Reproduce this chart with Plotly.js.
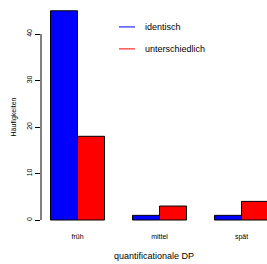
<!DOCTYPE html>
<html><head><meta charset="utf-8">
<script src="https://cdn.plot.ly/plotly-3.0.1.min.js"></script>
<style>html,body{margin:0;padding:0;background:#fff}#c{width:267px;height:264px}</style>
</head><body><div id="c"></div>
<script>
const categories = ["früh", "mittel", "spät"];
const identisch = [45, 1, 1];
const unterschiedlich = [18, 3, 4];
const seriesNames = ["identisch", "unterschiedlich"];
const seriesColors = ["#0000FF", "#FF0000"];
const yTicks = [0, 10, 20, 30, 40];

const font = "Liberation Sans, Arial, sans-serif";
const traces = [
  {type: "bar", x: categories, y: identisch, name: seriesNames[0], showlegend: false,
   marker: {color: seriesColors[0], line: {color: "#000", width: 1}}},
  {type: "bar", x: categories, y: unterschiedlich, name: seriesNames[1], showlegend: false,
   marker: {color: seriesColors[1], line: {color: "#000", width: 1}}}
];
// manual legend (R-style short line keys)
const legY = [0.902, 0.804];
const shapes = [{type: "line", xref: "paper", x0: 0, x1: 0, yref: "y", y0: yTicks[0], y1: yTicks[yTicks.length-1],
                 line: {color: "#000", width: 1}}];
const annotations = [];
seriesNames.forEach((n, i) => {
  shapes.push({type: "line", xref: "paper", yref: "paper", x0: 0.345, x1: 0.416, y0: legY[i], y1: legY[i],
               line: {color: seriesColors[i], width: 1}});
  annotations.push({xref: "paper", yref: "paper", x: 0.451, y: legY[i], xanchor: "left", yanchor: "middle",
                    text: n, showarrow: false, font: {size: 9, color: "#000"}});
});
const layout = {
  width: 267, height: 264,
  margin: {l: 41, r: 0, t: 5, b: 35},
  paper_bgcolor: "#fff", plot_bgcolor: "#fff",
  barmode: "group", bargap: 0.341, bargroupgap: 0,
  font: {family: font, color: "#000", size: 7},
  showlegend: false,
  xaxis: {range: [-0.445, 2.311], showline: false, showgrid: false, zeroline: false,
          ticks: "", tickfont: {size: 7}, ticklabelstandoff: 2,
          title: {text: "quantificationale DP", font: {size: 9}, standoff: 12}},
  yaxis: {range: [-1.935, 46.24], tickvals: yTicks, showgrid: false, zeroline: false,
          showline: false, ticks: "outside", ticklen: 5, tickcolor: "#000",
          tickangle: -90, tickfont: {size: 7},
          title: {text: "Häufigkeiten", font: {size: 7}, standoff: 8}},
  shapes: shapes,
  annotations: annotations
};
Plotly.newPlot("c", traces, layout, {displayModeBar: false, staticPlot: true});
</script></body></html>
